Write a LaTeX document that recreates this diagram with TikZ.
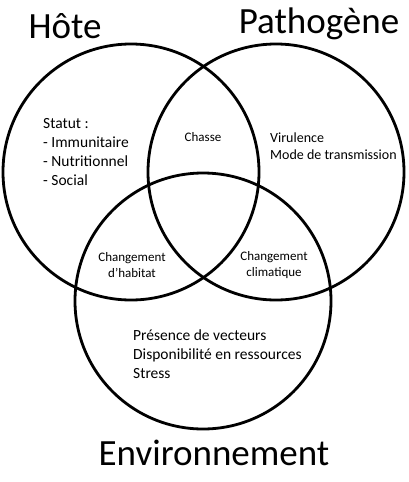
\documentclass[tikz,border=0pt]{standalone}
\usepackage{fontspec}
\setmainfont{Carlito}
\usetikzlibrary{positioning}
\tikzset{
  ring/.style  = {circle, draw, line width=2.8pt, inner sep=0pt,
                  minimum size=256pt},
  title/.style = {font=\fontsize{37}{40}\selectfont},
  facts/.style = {align=left, anchor=west, inner sep=0pt,
                  font=\fontsize{15.5}{19}\selectfont},
  inter/.style = {align=center, inner sep=0pt,
                  font=\fontsize{13}{16}\selectfont}
}
\begin{document}
\begin{tikzpicture}[x=1pt, y=-1pt]
  \useasboundingbox (0,0) rectangle (409,482);

  % the three sets
  \node[ring] (host) at (131,172) {};
  \node[ring] (path) at (276,172) {};
  \node[ring] (env)  at (203,301) {};

  % titles
  \node[title] (thost) at (65,26)  {Hôte};
  \node[title] (tpath) at (319,24) {Pathogène};
  \node[title] (tenv)  at (214,453) {Environnement};

  % own factors
  \node[facts] (fhost) at (43,152)
    {Statut :\\- Immunitaire\\- Nutritionnel\\- Social};
  \node[facts, font=\fontsize{14}{17}\selectfont] (fpath) at (270,146)
    {Virulence\\Mode de transmission};
  \node[facts] (fenv)  at (133,354)
    {Présence de vecteurs\\Disponibilité en ressources\\Stress};

  % overlaps
  \node[inter] (hp) at (203,137) {Chasse};
  \node[inter] (he) at (132,265) {Changement\\d’habitat};
  \node[inter] (pe) at (274,265) {Changement\\climatique};

\end{tikzpicture}
\end{document}
